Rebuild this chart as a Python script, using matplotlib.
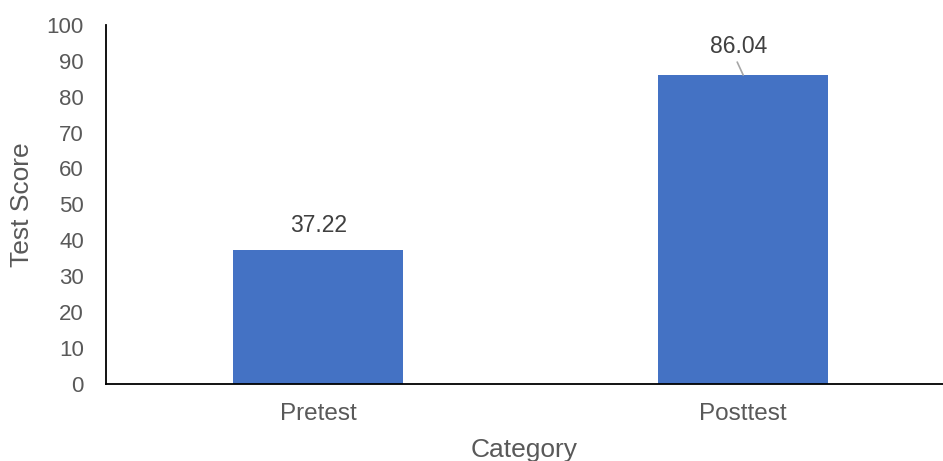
import matplotlib
matplotlib.use("Agg")
import matplotlib.pyplot as plt

categories = ["Pretest", "Posttest"]
scores = [37.22, 86.04]
yticks = [0, 10, 20, 30, 40, 50, 60, 70, 80, 90, 100]

plt.rcParams['font.family'] = ['Liberation Sans', 'DejaVu Sans']

W, H = 943, 461
fig = plt.figure(figsize=(W / 100, H / 100), dpi=100)
left, right, bottom, top = 106, 943, 383.7, 25
ax = fig.add_axes([left / W, 1 - bottom / H, (right - left) / W, (bottom - top) / H])

x = list(range(len(categories)))
ax.bar(x, scores, width=0.4, color="#4472C4", zorder=2)
ax.set_xlim(-0.499, 1.47)
ax.set_ylim(0, 100)
ax.set_yticks(yticks)
ax.set_xticks(x)
ax.set_xticklabels(categories)

for s in ["top", "right"]:
    ax.spines[s].set_visible(False)
for s in ["left", "bottom"]:
    ax.spines[s].set_color("black")
    ax.spines[s].set_linewidth(1.3)

ax.tick_params(axis="both", length=0, colors="#595959")
ax.tick_params(axis="y", pad=16, labelsize=16)
ax.tick_params(axis="x", pad=14, labelsize=17.5)

ax.set_ylabel("Test Score", fontsize=19, color="#595959", labelpad=9)
ax.set_xlabel("Category", fontsize=19, color="#595959", labelpad=9)

# data labels
ax.annotate(f"{scores[0]:.2f}", xy=(x[0], scores[0]), xytext=(0, 25),
            textcoords="offset pixels", ha="center", va="center",
            fontsize=16.5, color="#404040")
ax.annotate(f"{scores[1]:.2f}", xy=(x[1], scores[1]), xytext=(-5, 29),
            textcoords="offset pixels", ha="center", va="center",
            fontsize=16.5, color="#404040")
ax.annotate("", xy=(x[1], scores[1]), xytext=(-6, 13),
            textcoords="offset pixels",
            arrowprops=dict(arrowstyle="-", color="#A6A6A6", lw=1.2,
                            shrinkA=0, shrinkB=0))

fig.savefig("out.png", dpi=100)
